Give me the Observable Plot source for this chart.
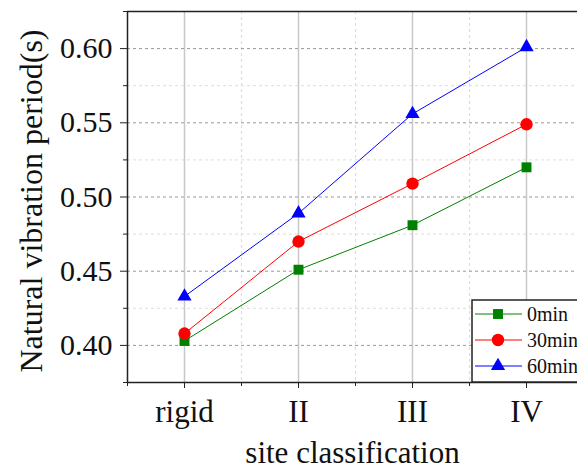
<!DOCTYPE html>
<html>
<head>
<meta charset="utf-8">
<script src="https://cdn.jsdelivr.net/npm/d3@7"></script>
<script src="https://cdn.jsdelivr.net/npm/@observablehq/plot@0.6"></script>
<style>
  html, body { margin: 0; padding: 0; background: #fff; }
  #chart { position: relative; width: 577px; height: 470px; overflow: hidden; }
</style>
</head>
<body>
<div id="chart"></div>
<script>
// ---- data ----
const categories = ["rigid", "II", "III", "IV"];
const seriesNames = ["0min", "30min", "60min"];
const values0 = [0.403, 0.451, 0.481, 0.520];
const values30 = [0.408, 0.470, 0.509, 0.549];
const values60 = [0.433, 0.489, 0.556, 0.601];
const yTicks = [0.40, 0.45, 0.50, 0.55, 0.60];
const yMinor = [0.375, 0.425, 0.475, 0.525, 0.575, 0.625];
const xLabel = "site classification";
const yLabel = "Natural vibration period(s)";

const colors = ["#008000", "#ff0000", "#0000ff"];
const symbols = ["square", "circle", "triangle"];
const radii = [5.6, 6.2, 5.3];
const allValues = [values0, values30, values60];

const xMajor = categories.map((c, i) => i + 1);
const xMinor = [0.5, 1.5, 2.5, 3.5, 4.5];

const rows = [];
seriesNames.forEach((s, si) => {
  categories.forEach((c, ci) => rows.push({series: s, si, x: ci + 1, y: allValues[si][ci]}));
});

const font = "'Liberation Serif', 'Times New Roman', serif";
const seriesMarks = [];
seriesNames.forEach((s, si) => {
  const d = rows.filter(r => r.si === si);
  seriesMarks.push(Plot.line(d, {x: "x", y: "y", stroke: colors[si], strokeWidth: 1}));
  seriesMarks.push(Plot.dot(d, {x: "x", y: "y", fill: colors[si], stroke: "none", symbol: symbols[si], r: radii[si]}));
});

const chart = Plot.plot({
  width: 577,
  height: 470,
  marginLeft: 127,
  marginTop: 11,
  marginBottom: 88,
  marginRight: 0,
  style: {fontFamily: font, background: "#fff", color: "#111"},
  x: {domain: [0.5, 4.5], range: [127, 583]},
  y: {domain: [0.375, 0.625], range: [382, 11]},
  marks: [
    Plot.ruleX(xMinor.slice(1, -1), {stroke: "#ddd", strokeDasharray: "3,3", strokeWidth: 1.2}),
    Plot.ruleY(yMinor.slice(1, -1), {stroke: "#ddd", strokeDasharray: "3,3", strokeWidth: 1}),
    Plot.ruleX(xMajor, {stroke: "#c8c8c8", strokeWidth: 1.5}),
    Plot.ruleY(yTicks, {stroke: "#999", strokeDasharray: "3,3", strokeWidth: 1}),
    ...seriesMarks,
    Plot.axisY(yTicks, {tickSize: 7, tickPadding: 8, fontSize: 30, tickFormat: d3.format(".2f"), label: null, stroke: "#222"}),
    Plot.axisY(yMinor, {tickSize: 4, text: null, label: null, stroke: "#222"}),
    Plot.axisX(xMajor, {tickSize: 6, tickPadding: 11, fontSize: 31, tickFormat: d => categories[d - 1], label: null, stroke: "#222"}),
    Plot.axisX(xMinor, {tickSize: 4, text: null, label: null, stroke: "#222"}),
    Plot.ruleX([0.5], {stroke: "#222", strokeWidth: 1.5}),
    Plot.ruleY([0.375], {stroke: "#222", strokeWidth: 1.5}),
    Plot.ruleY([0.625], {stroke: "#222", strokeWidth: 1.5}),
    Plot.text([xLabel], {frameAnchor: "bottom", dy: 71, lineAnchor: "middle", textAnchor: "middle", fontSize: 31, fill: "#111"}),
    Plot.text([yLabel], {frameAnchor: "left", dx: -96, dy: 4, rotate: -90, lineAnchor: "middle", textAnchor: "middle", fontSize: 32, fill: "#111"})
  ]
});

document.getElementById("chart").appendChild(chart);

const svg = d3.select(chart);
svg.selectAll("text").style("font-family", font);

// ---- legend ----
const lg = svg.append("g");
lg.append("rect").attr("x", 472).attr("y", 300).attr("width", 130).attr("height", 82)
  .attr("fill", "#fff").attr("stroke", "#222").attr("stroke-width", 1.5);
const rowY = [314, 340, 366];
seriesNames.forEach((s, i) => {
  const g = lg.append("g");
  g.append("line").attr("x1", 475).attr("x2", 522).attr("y1", rowY[i]).attr("y2", rowY[i])
    .attr("stroke", colors[i]).attr("stroke-width", 1);
  const sym = [d3.symbolSquare, d3.symbolCircle, d3.symbolTriangle][i];
  g.append("path").attr("d", d3.symbol(sym, Math.PI * radii[i] * radii[i])())
    .attr("transform", `translate(498,${rowY[i]})`).attr("fill", colors[i]);
  g.append("text").attr("x", 527).attr("y", rowY[i]).attr("dy", "0.35em")
    .style("font-family", font).style("font-size", "20px").style("font-weight", "normal")
    .attr("text-anchor", "start").attr("fill", "#111").text(s);
});
</script>
</body>
</html>
